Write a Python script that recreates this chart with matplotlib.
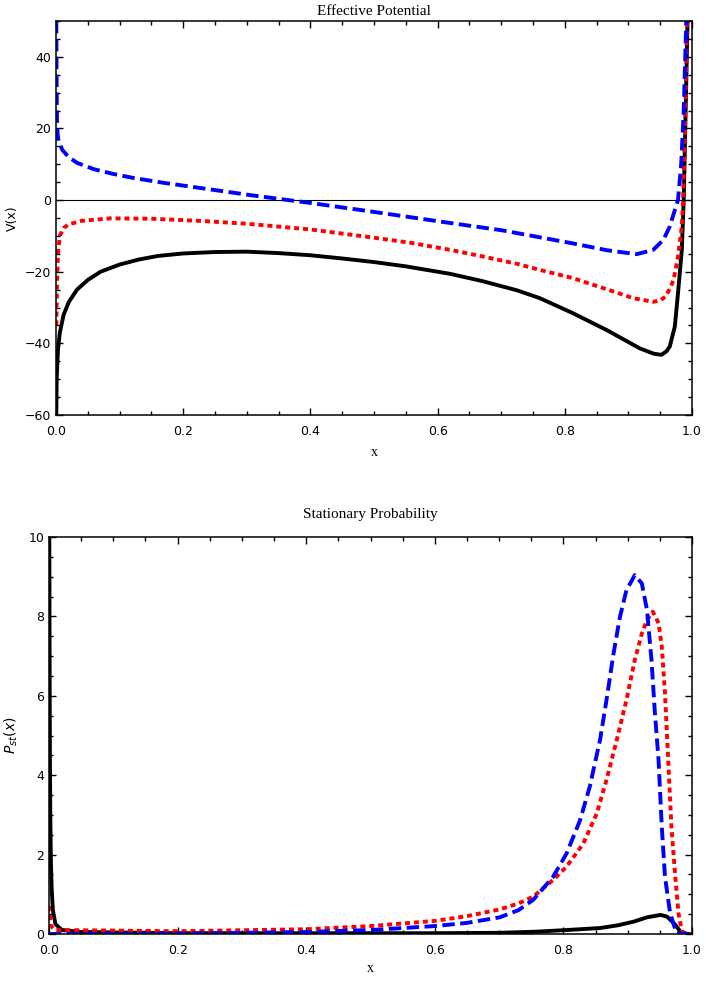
import numpy as np
import matplotlib
matplotlib.use("Agg")
import matplotlib.pyplot as plt
from matplotlib.ticker import MultipleLocator

# Effective potential V(x), three cases
v_black_x = [0.0005, 0.001, 0.003, 0.006, 0.012, 0.02, 0.033, 0.05, 0.07, 0.1, 0.13, 0.16, 0.2,
             0.25, 0.3, 0.35, 0.4, 0.45, 0.5, 0.55, 0.62, 0.67, 0.725, 0.761, 0.813, 0.866,
             0.918, 0.94, 0.952, 0.96, 0.965, 0.973, 0.978, 0.984, 0.987, 0.99, 0.993]
v_black_y = [-60, -50, -42, -37, -32, -28.5, -25, -22.3, -20, -18, -16.6, -15.6, -14.9,
             -14.5, -14.4, -14.8, -15.4, -16.3, -17.3, -18.5, -20.6, -22.6, -25.2, -27.4, -31.6,
             -36.3, -41.4, -42.9, -43.2, -42.2, -40.9, -35.3, -26, -13.9, 0, 25, 50]

v_red_x = [0.0005, 0.0015, 0.003, 0.006, 0.012, 0.02, 0.04, 0.085, 0.15, 0.226, 0.3, 0.4,
           0.5, 0.56, 0.62, 0.67, 0.725, 0.761, 0.813, 0.866, 0.908, 0.939, 0.95, 0.958,
           0.965, 0.971, 0.978, 0.984, 0.986, 0.989, 0.992]
v_red_y = [-35, -24, -15, -10, -7.8, -6.8, -5.8, -5.1, -5.2, -5.8, -6.6, -8.2,
           -10.5, -12, -13.9, -15.7, -17.8, -19.5, -21.8, -24.9, -27.4, -28.4, -28.0, -27,
           -24.8, -22.3, -15.8, -7.4, 0, 20, 50]

v_blue_x = [0.0005, 0.0008, 0.0012, 0.0016, 0.0025, 0.004, 0.01, 0.02, 0.033, 0.06, 0.09,
            0.121, 0.17, 0.226, 0.305, 0.4, 0.5, 0.62, 0.7, 0.761, 0.813, 0.866, 0.913,
            0.939, 0.955, 0.965, 0.973, 0.978, 0.983, 0.987, 0.991]
v_blue_y = [50, 38, 28, 22, 18.5, 16.5, 14, 12, 10.4, 8.6, 7.3,
            6.2, 4.8, 3.4, 1.4, -0.8, -3.3, -6.4, -8.4, -10.4, -12.1, -14.0, -15.1,
            -13.9, -11.1, -7.4, -2.8, 0, 10, 25, 50]

# Stationary probability P_st(x)
p_black_x = [0.0005, 0.001, 0.0015, 0.002, 0.003, 0.004, 0.006, 0.01, 0.02, 0.05, 0.2, 0.5,
             0.6, 0.701, 0.76, 0.805, 0.857, 0.885, 0.909, 0.93, 0.951, 0.961, 0.972, 0.982,
             0.992, 1.0]
p_black_y = [10, 6.5, 4.2, 3, 1.8, 1.2, 0.6, 0.25, 0.1, 0.05, 0.02, 0.02,
             0.02, 0.03, 0.06, 0.1, 0.15, 0.22, 0.31, 0.42, 0.48, 0.44, 0.27, 0.06, 0, 0]

p_red_x = [0.0, 0.003, 0.01, 0.2, 0.4, 0.5, 0.6, 0.65, 0.701, 0.73, 0.753, 0.784, 0.805,
           0.831, 0.852, 0.867, 0.883, 0.898, 0.911, 0.922, 0.93, 0.939, 0.948, 0.953,
           0.958, 0.963, 0.968, 0.974, 0.979, 0.984, 0.988, 1.0]
p_red_y = [0.7, 0.2, 0.1, 0.07, 0.12, 0.2, 0.33, 0.45, 0.62, 0.77, 0.94, 1.36, 1.7,
           2.28, 3.04, 3.88, 4.89, 5.89, 6.9, 7.57, 7.91, 8.12, 7.83, 7.24,
           6.06, 4.38, 2.7, 1.44, 0.52, 0.1, 0, 0]

p_blue_x = [0.0, 0.2, 0.4, 0.5, 0.6, 0.65, 0.701, 0.73, 0.753, 0.784, 0.805, 0.826, 0.841,
            0.857, 0.867, 0.878, 0.888, 0.898, 0.911, 0.922, 0.93, 0.937, 0.942, 0.948,
            0.953, 0.958, 0.966, 0.976, 1.0]
p_blue_y = [0.0, 0.01, 0.05, 0.1, 0.2, 0.28, 0.42, 0.6, 0.86, 1.44, 2.03, 2.87, 3.71,
            4.89, 5.89, 7.07, 7.99, 8.66, 9.04, 8.83, 8.16, 6.9, 5.64, 4.38,
            2.7, 1.44, 0.52, 0.02, 0]

fig = plt.figure(figsize=(7.06, 9.81), dpi=100)
W, H = 706.0, 981.0
ax1 = fig.add_axes([56 / W, 1 - 415 / H, 636 / W, 394 / H])
ax2 = fig.add_axes([49 / W, 1 - 934 / H, 643 / W, 397 / H])

blue_ls = (0, (3.2, 1.4))
red_ls = (0, (1.3, 1.0))
lw = 2.8

ax1.axhline(0, color="black", lw=0.8)
ax1.plot(v_black_x, v_black_y, color="black", lw=lw, solid_joinstyle="round")
ax1.plot(v_red_x, v_red_y, color="#ff0000", lw=lw, ls=red_ls)
ax1.plot(v_blue_x, v_blue_y, color="#0000ff", lw=lw, ls=blue_ls)
ax1.set_xlim(0, 1)
ax1.set_ylim(-60, 50)
ax1.yaxis.set_major_locator(MultipleLocator(20))
ax1.yaxis.set_minor_locator(MultipleLocator(5))
ax1.set_title("Effective Potential", family="Liberation Serif", fontsize=11, pad=4)
ax1.set_ylabel("V(x)", fontsize=9, labelpad=4)
ax1.set_xlabel("x", family="Liberation Serif", fontsize=10, labelpad=6)

ax2.plot(p_black_x, p_black_y, color="black", lw=lw, solid_joinstyle="round")
ax2.plot(p_red_x, p_red_y, color="#ff0000", lw=lw, ls=red_ls)
ax2.plot(p_blue_x, p_blue_y, color="#0000ff", lw=lw, ls=blue_ls)
ax2.set_xlim(0, 1)
ax2.set_ylim(0, 10)
ax2.yaxis.set_major_locator(MultipleLocator(2))
ax2.yaxis.set_minor_locator(MultipleLocator(0.5))
ax2.set_title("Stationary Probability", family="Liberation Serif", fontsize=11, pad=14)
ax2.set_ylabel(r"$P_{st}(x)$", fontsize=10, labelpad=6)
ax2.set_xlabel("x", family="Liberation Serif", fontsize=10, labelpad=4)

for ax in (ax1, ax2):
    ax.xaxis.set_major_locator(MultipleLocator(0.2))
    ax.xaxis.set_minor_locator(MultipleLocator(0.05))
    ax.xaxis.set_major_formatter(plt.FuncFormatter(lambda v, p: "%.1f" % v))
    ax.tick_params(which="both", direction="in", top=True, right=True, labelsize=9, width=1, color="black")
    ax.tick_params(axis="x", which="both", pad=7)
    ax.tick_params(which="major", length=5)
    ax.tick_params(which="minor", length=3)
    for s in ax.spines.values():
        s.set_linewidth(1.1)

fig.savefig("out.png", dpi=100)
